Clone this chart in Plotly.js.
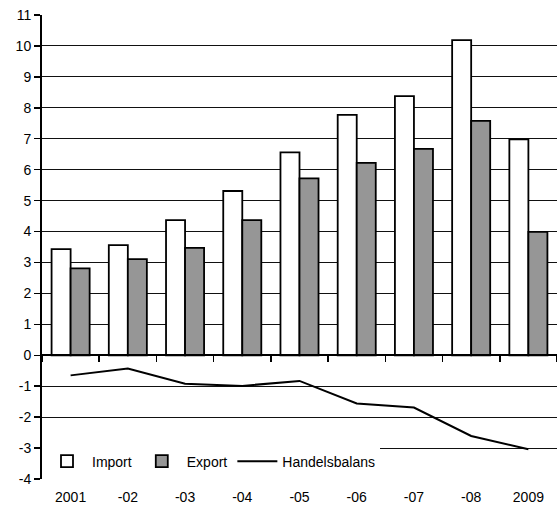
<!DOCTYPE html>
<html>
<head>
<meta charset="utf-8">
<script src="https://cdn.plot.ly/plotly-3.0.1.min.js"></script>
<style>html,body{margin:0;padding:0;background:#fff;}#chart{width:557px;height:513px;}</style>
</head>
<body>
<div id="chart"></div>
<script>
const years = ["2001", "-02", "-03", "-04", "-05", "-06", "-07", "-08", "2009"];
const importValues = [3.43, 3.56, 4.37, 5.31, 6.56, 7.77, 8.38, 10.19, 6.98];
const exportValues = [2.81, 3.11, 3.47, 4.37, 5.72, 6.22, 6.67, 7.58, 3.99];
const handelsbalans = [-0.65, -0.43, -0.92, -0.99, -0.83, -1.56, -1.69, -2.61, -3.04];
const yTicks = [-4, -3, -2, -1, 0, 1, 2, 3, 4, 5, 6, 7, 8, 9, 10, 11];

const fam = "'Liberation Sans', Arial, sans-serif";
const font = {family: fam, size: 14, color: "#000"};

const traces = [
  {type: "bar", name: "Import", x: years, y: importValues,
   marker: {color: "#ffffff", line: {color: "#000", width: 1.8}}, hoverinfo: "skip"},
  {type: "bar", name: "Export", x: years, y: exportValues,
   marker: {color: "#969696", line: {color: "#000", width: 1.8}}, hoverinfo: "skip"},
  {type: "scatter", mode: "lines", name: "Handelsbalans", x: years, y: handelsbalans,
   line: {color: "#000", width: 2}, hoverinfo: "skip"},
  {type: "scatter", mode: "lines", x: years, y: years.map(() => null), xaxis: "x2",
   showlegend: false, hoverinfo: "skip"}
];

const layout = {
  width: 557, height: 513,
  margin: {l: 42, r: 0, t: 15, b: 34},
  paper_bgcolor: "#fff", plot_bgcolor: "#fff",
  font: font,
  barmode: "group", bargap: 0.335, bargroupgap: 0,
  showlegend: true,
  legend: {orientation: "h", x: 0, xanchor: "left", y: 0.003, yanchor: "bottom",
           bgcolor: "#fff", borderwidth: 0, font: font, traceorder: "normal",
           itemwidth: 40},
  xaxis: {type: "category", categoryarray: years, range: [-0.5, 8.5],
          showline: false, ticks: "", showgrid: false, zeroline: false,
          ticklabelstandoff: 8,
          tickfont: font, fixedrange: true},
  xaxis2: {type: "category", categoryarray: years, range: [-0.5, 8.5],
           overlaying: "x", anchor: "free", position: 4 / 15, side: "bottom",
           showline: true, linecolor: "#000", linewidth: 2,
           ticks: "outside", tickson: "boundaries", ticklen: 6, tickwidth: 1.5, tickcolor: "#000",
           showticklabels: false, showgrid: false, zeroline: false},
  yaxis: {range: [-4, 11], tickvals: yTicks, ticktext: yTicks.map(String),
          showline: true, linecolor: "#000", linewidth: 2,
          ticks: "outside", ticklen: 6, tickwidth: 1.5, tickcolor: "#000",
          showgrid: true, gridcolor: "#111", gridwidth: 1, zeroline: false,
          tickfont: font, fixedrange: true}
};

Plotly.newPlot("chart", traces, layout, {staticPlot: true, displayModeBar: false});
</script>
</body>
</html>
